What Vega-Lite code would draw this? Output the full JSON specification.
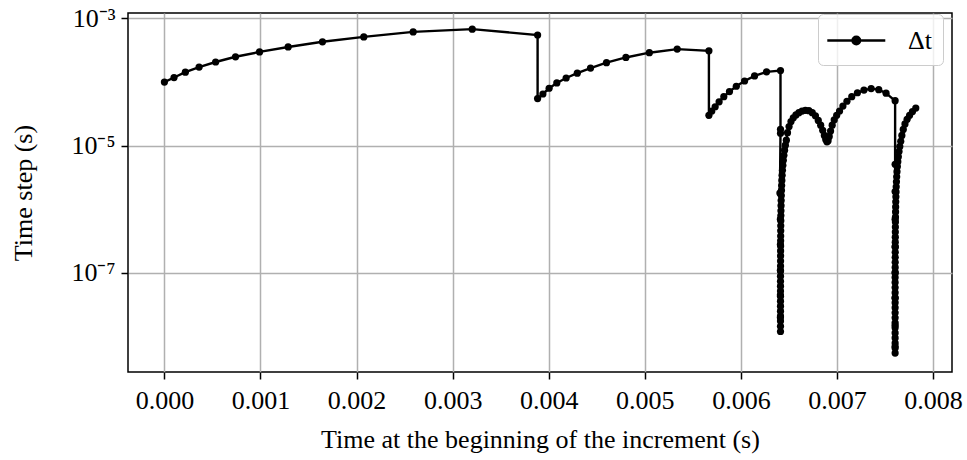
{
  "$schema": "https://vega.github.io/schema/vega-lite/v6.json",
  "width": 824,
  "height": 359,
  "autosize": "none",
  "padding": {"left": 128, "top": 13, "right": 15, "bottom": 88},
  "background": "white",
  "config": {
    "font": "Liberation Serif",
    "view": {"stroke": "black", "strokeWidth": 1.5},
    "axis": {
      "labelFont": "Liberation Serif",
      "titleFont": "Liberation Serif",
      "labelFontSize": 26,
      "titleFontSize": 26,
      "labelColor": "black",
      "titleColor": "black",
      "titleFontWeight": "normal",
      "tickColor": "black",
      "tickSize": 7,
      "tickWidth": 1.5,
      "domain": false,
      "grid": true,
      "gridColor": "#b0b0b0",
      "gridWidth": 1.5
    }
  },
  "data": {
    "values": [
      {"t": 0, "dt": 1.0e-4}, {"t": 0.0001, "dt": 1.18e-4}, {"t": 0.000218, "dt": 1.43e-4}, {"t": 0.000361, "dt": 1.72e-4},
      {"t": 0.000533, "dt": 2.07e-4}, {"t": 0.00074, "dt": 2.5e-4}, {"t": 0.00099, "dt": 2.98e-4}, {"t": 0.001288, "dt": 3.57e-4},
      {"t": 0.001645, "dt": 4.3e-4}, {"t": 0.002075, "dt": 5.14e-4}, {"t": 0.002589, "dt": 6.15e-4}, {"t": 0.003204, "dt": 6.8e-4},
      {"t": 0.003884, "dt": 5.5e-4},
      {"t": 0.003884, "dt": 5.5e-5}, {"t": 0.003939, "dt": 6.5e-5}, {"t": 0.004004, "dt": 8.0e-5}, {"t": 0.004084, "dt": 9.7e-5},
      {"t": 0.004181, "dt": 1.16e-4}, {"t": 0.004297, "dt": 1.38e-4}, {"t": 0.004435, "dt": 1.66e-4}, {"t": 0.004601, "dt": 2.02e-4},
      {"t": 0.004803, "dt": 2.44e-4}, {"t": 0.005047, "dt": 2.9e-4}, {"t": 0.005337, "dt": 3.3e-4}, {"t": 0.005667, "dt": 3.1e-4},
      {"t": 0.005667, "dt": 3.0e-5}, {"t": 0.005697, "dt": 3.5e-5}, {"t": 0.005732, "dt": 4.1e-5}, {"t": 0.005773, "dt": 4.9e-5},
      {"t": 0.005822, "dt": 5.9e-5}, {"t": 0.005881, "dt": 7.1e-5}, {"t": 0.005952, "dt": 8.6e-5}, {"t": 0.006038, "dt": 1.04e-4},
      {"t": 0.006142, "dt": 1.25e-4}, {"t": 0.006267, "dt": 1.45e-4}, {"t": 0.006412, "dt": 1.52e-4},
      {"t": 0.006412, "dt": 1.81e-5}, {"t": 0.006412, "dt": 1.57e-5}, {"t": 0.006406, "dt": 1.8e-6}, {"t": 0.006411, "dt": 7e-7},
      {"t": 0.006411, "dt": 2.8e-7}, {"t": 0.006411, "dt": 1.1e-7}, {"t": 0.006411, "dt": 4.5e-8}, {"t": 0.006411, "dt": 2e-8},
      {"t": 0.006412, "dt": 1.2e-8}, {"t": 0.006412, "dt": 1.45e-8}, {"t": 0.006412, "dt": 1.75e-8}, {"t": 0.006412, "dt": 2.1e-8},
      {"t": 0.006412, "dt": 2.5e-8}, {"t": 0.006412, "dt": 3.0e-8}, {"t": 0.006412, "dt": 3.6e-8}, {"t": 0.006412, "dt": 4.3e-8},
      {"t": 0.006412, "dt": 5.2e-8}, {"t": 0.006412, "dt": 6.2e-8}, {"t": 0.006412, "dt": 7.4e-8}, {"t": 0.006412, "dt": 8.9e-8},
      {"t": 0.0064125, "dt": 1.07e-7}, {"t": 0.0064126, "dt": 1.28e-7}, {"t": 0.0064128, "dt": 1.54e-7}, {"t": 0.0064129, "dt": 1.85e-7},
      {"t": 0.0064131, "dt": 2.22e-7}, {"t": 0.0064133, "dt": 2.66e-7}, {"t": 0.0064136, "dt": 3.2e-7}, {"t": 0.0064139, "dt": 3.8e-7},
      {"t": 0.0064143, "dt": 4.6e-7}, {"t": 0.0064148, "dt": 5.5e-7}, {"t": 0.0064153, "dt": 6.6e-7}, {"t": 0.006416, "dt": 8.0e-7},
      {"t": 0.0064168, "dt": 9.5e-7}, {"t": 0.0064177, "dt": 1.14e-6}, {"t": 0.0064189, "dt": 1.37e-6}, {"t": 0.0064203, "dt": 1.65e-6},
      {"t": 0.0064219, "dt": 1.98e-6}, {"t": 0.0064239, "dt": 2.37e-6}, {"t": 0.0064263, "dt": 2.85e-6}, {"t": 0.0064291, "dt": 3.42e-6},
      {"t": 0.0064325, "dt": 4.1e-6}, {"t": 0.0064366, "dt": 4.92e-6}, {"t": 0.0064415, "dt": 5.9e-6}, {"t": 0.0064474, "dt": 7.08e-6},
      {"t": 0.0064545, "dt": 8.5e-6}, {"t": 0.006463, "dt": 1.02e-5}, {"t": 0.006473, "dt": 1.22e-5},
      {"t": 0.0064852, "dt": 1.6e-5}, {"t": 0.0065012, "dt": 2.0e-5}, {"t": 0.0065212, "dt": 2.4e-5}, {"t": 0.0065452, "dt": 2.75e-5},
      {"t": 0.0065727, "dt": 3.05e-5}, {"t": 0.0066032, "dt": 3.3e-5}, {"t": 0.0066362, "dt": 3.5e-5}, {"t": 0.0066712, "dt": 3.6e-5},
      {"t": 0.0067072, "dt": 3.55e-5}, {"t": 0.0067427, "dt": 3.3e-5}, {"t": 0.0067757, "dt": 2.95e-5}, {"t": 0.0068052, "dt": 2.5e-5},
      {"t": 0.0068302, "dt": 2.1e-5}, {"t": 0.0068512, "dt": 1.75e-5}, {"t": 0.0068687, "dt": 1.45e-5}, {"t": 0.0068832, "dt": 1.25e-5},
      {"t": 0.0068957, "dt": 1.15e-5}, {"t": 0.0069072, "dt": 1.2e-5}, {"t": 0.0069192, "dt": 1.4e-5}, {"t": 0.0069332, "dt": 1.7e-5},
      {"t": 0.0069502, "dt": 2.1e-5}, {"t": 0.0069712, "dt": 2.55e-5}, {"t": 0.0069967, "dt": 3.0e-5}, {"t": 0.0070267, "dt": 3.5e-5},
      {"t": 0.0070617, "dt": 4.2e-5}, {"t": 0.0071037, "dt": 5.0e-5}, {"t": 0.0071537, "dt": 5.9e-5}, {"t": 0.0072127, "dt": 6.8e-5},
      {"t": 0.0072807, "dt": 7.5e-5}, {"t": 0.0073557, "dt": 7.9e-5}, {"t": 0.0074347, "dt": 7.6e-5}, {"t": 0.0075107, "dt": 6.7e-5},
      {"t": 0.007605, "dt": 5.1e-5},
      {"t": 0.007605, "dt": 5.1e-6}, {"t": 0.007605, "dt": 1.9e-6}, {"t": 0.007605, "dt": 7e-7}, {"t": 0.007605, "dt": 2.6e-7},
      {"t": 0.007605, "dt": 1e-7}, {"t": 0.007605, "dt": 4e-8}, {"t": 0.007605, "dt": 1.5e-8}, {"t": 0.007605, "dt": 7e-9},
      {"t": 0.007605, "dt": 5.5e-9}, {"t": 0.007605, "dt": 6.6e-9}, {"t": 0.007605, "dt": 7.9e-9}, {"t": 0.007605, "dt": 9.5e-9},
      {"t": 0.007605, "dt": 1.14e-8}, {"t": 0.007605, "dt": 1.37e-8}, {"t": 0.007605, "dt": 1.64e-8}, {"t": 0.007605, "dt": 1.97e-8},
      {"t": 0.007605, "dt": 2.36e-8}, {"t": 0.007605, "dt": 2.84e-8}, {"t": 0.007605, "dt": 3.4e-8}, {"t": 0.007605, "dt": 4.1e-8},
      {"t": 0.007605, "dt": 4.9e-8}, {"t": 0.007605, "dt": 5.9e-8}, {"t": 0.007605, "dt": 7.1e-8}, {"t": 0.007605, "dt": 8.5e-8},
      {"t": 0.0076055, "dt": 1.02e-7}, {"t": 0.0076056, "dt": 1.22e-7}, {"t": 0.0076057, "dt": 1.47e-7}, {"t": 0.0076059, "dt": 1.76e-7},
      {"t": 0.0076061, "dt": 2.11e-7}, {"t": 0.0076063, "dt": 2.54e-7}, {"t": 0.0076065, "dt": 3.04e-7}, {"t": 0.0076068, "dt": 3.65e-7},
      {"t": 0.0076072, "dt": 4.38e-7}, {"t": 0.0076076, "dt": 5.26e-7}, {"t": 0.0076082, "dt": 6.31e-7}, {"t": 0.0076088, "dt": 7.57e-7},
      {"t": 0.0076096, "dt": 9.1e-7}, {"t": 0.0076105, "dt": 1.09e-6}, {"t": 0.0076116, "dt": 1.31e-6}, {"t": 0.0076129, "dt": 1.57e-6},
      {"t": 0.0076144, "dt": 1.88e-6}, {"t": 0.0076163, "dt": 2.26e-6}, {"t": 0.0076186, "dt": 2.71e-6}, {"t": 0.0076213, "dt": 3.25e-6},
      {"t": 0.0076245, "dt": 3.9e-6}, {"t": 0.0076285, "dt": 4.7e-6}, {"t": 0.007633, "dt": 5.6e-6}, {"t": 0.0076385, "dt": 6.7e-6},
      {"t": 0.0076455, "dt": 8.1e-6}, {"t": 0.0076535, "dt": 9.7e-6}, {"t": 0.0076635, "dt": 1.17e-5}, {"t": 0.0076752, "dt": 1.45e-5},
      {"t": 0.0076897, "dt": 1.8e-5}, {"t": 0.0077077, "dt": 2.2e-5}, {"t": 0.0077297, "dt": 2.6e-5}, {"t": 0.0077557, "dt": 3.0e-5},
      {"t": 0.0077857, "dt": 3.45e-5}, {"t": 0.0078202, "dt": 3.9e-5}
    ]
  },
  "mark": {"type": "line", "point": {"filled": true, "size": 52}, "strokeWidth": 2.4, "clip": true},
  "encoding": {
    "x": {
      "field": "t",
      "type": "quantitative",
      "scale": {"domain": [-0.000379, 0.008197], "nice": false, "zero": false},
      "axis": {
        "values": [0, 0.001, 0.002, 0.003, 0.004, 0.005, 0.006, 0.007, 0.008],
        "format": ".3f",
        "labelPadding": 8,
        "title": "Time at the beginning of the increment (s)",
        "titlePadding": 13
      }
    },
    "y": {
      "field": "dt",
      "type": "quantitative",
      "scale": {"type": "log", "domain": [2.77e-9, 1.22e-3], "nice": false},
      "axis": {
        "values": [1e-7, 1e-5, 1e-3],
        "labelExpr": "datum.value > 5e-4 ? '10\u207b\u00b3' : (datum.value > 5e-6 ? '10\u207b\u2075' : '10\u207b\u2077')",
        "labelPadding": 6,
        "title": "Time step (s)",
        "titlePadding": 34
      }
    },
    "color": {
      "datum": "\u0394t",
      "type": "nominal",
      "scale": {"range": ["black"]},
      "legend": {
        "title": null,
        "orient": "none",
        "legendX": 690,
        "legendY": 1,
        "padding": 11,
        "cornerRadius": 5,
        "strokeColor": "#cccccc",
        "fillColor": "rgba(255,255,255,0.8)",
        "labelFont": "Liberation Serif",
        "labelFontSize": 26,
        "labelColor": "black",
        "labelOffset": 48,
        "symbolType": "M-1.229,0L2.914,0M1.114,0A0.271,0.271,0,1,1,0.572,0A0.271,0.271,0,1,1,1.114,0Z",
        "symbolSize": 784,
        "symbolStrokeWidth": 2.4,
        "symbolFillColor": "black",
        "symbolStrokeColor": "black",
        "symbolOpacity": 1
      }
    },
    "order": {"value": null}
  }
}
